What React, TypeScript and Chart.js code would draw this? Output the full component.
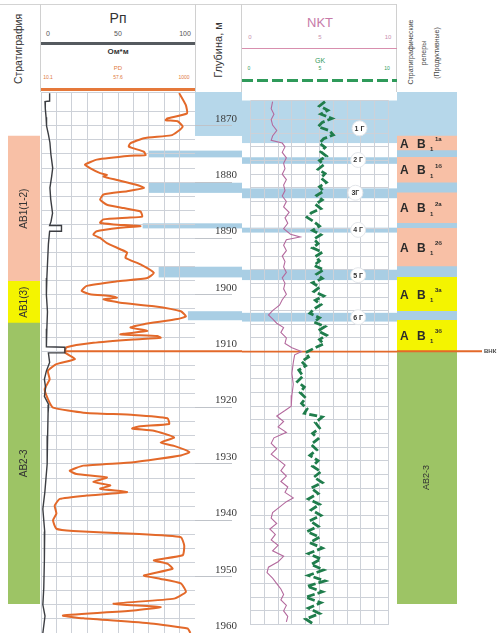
import React, { useEffect, useRef } from "react";
import { Chart, registerables } from "chart.js";

Chart.register(...registerables);

// ---------------- DATA ----------------
const DEPTH_MIN = 1864;
const DEPTH_MAX = 1960;
const OWC_DEPTH = 1910;
const OWC_LABEL = "ВНК";

const rpScaleLabels = ["0", "50", "100"];
const pdScaleLabels = ["10.1", "57.6", "1000"];
const nktScaleLabels = ["0", "5", "10"];
const gkScaleLabels = ["0", "5", "10"];

// Rp resistivity curve: [depth m, Ohm*m]
const rpCurve: [number, number][] = [
  [1864.2, 89.7], [1866.3, 94], [1867.8, 94.8], [1868.7, 82], [1869.0, 81], [1869.2, 88.7],
  [1870.1, 92], [1871.0, 88.7], [1871.7, 84.3], [1872.2, 66.8], [1873.1, 58], [1873.7, 57],
  [1874.6, 66.8], [1875.2, 67.9], [1875.3, 58], [1876.0, 36.2], [1876.9, 28.6], [1877.5, 31.8],
  [1878.4, 38.4], [1878.7, 42.8], [1879.0, 40.6], [1879.6, 49.3], [1880.5, 62.4], [1881.0, 66.8],
  [1881.6, 55.9], [1882.2, 40.6], [1883.1, 38.4], [1884.0, 42.8], [1884.6, 53.7], [1885.2, 64.6],
  [1886.1, 65.7], [1886.3, 55.9], [1886.6, 40.6], [1887.2, 38.4], [1887.5, 47.1], [1887.8, 64.6],
  [1888.1, 51.5], [1888.7, 36.2], [1889.3, 34], [1889.9, 38.4], [1890.8, 42.8], [1891.9, 51.5],
  [1892.5, 55.9], [1893.4, 54.8], [1894.6, 64.6], [1896.1, 73.3], [1897.0, 69], [1897.6, 49.3],
  [1898.4, 29.7], [1899.3, 26.4], [1899.9, 31.8], [1900.2, 45], [1900.5, 49.3], [1900.8, 40.6],
  [1901.4, 51.5], [1902.0, 73.3], [1902.9, 90.8], [1903.8, 94.1], [1904.3, 88.7], [1905.2, 66.8],
  [1905.8, 58.1], [1906.4, 69], [1907.0, 51.5], [1907.3, 75.5], [1907.6, 77.7], [1907.9, 60.2],
  [1908.5, 34], [1909.3, 16.6], [1910.2, 15.5], [1911.4, 22], [1912.3, 10], [1913.5, 4.5],
  [1915.0, 5.6], [1916.7, 2.4], [1918.5, 4.5], [1920.0, 7.8], [1920.9, 27.5], [1921.3, 60.2],
  [1921.9, 82.1], [1922.9, 83.2], [1923.3, 64.6], [1923.7, 59.2], [1924.1, 73.3], [1925.3, 86.4],
  [1926.2, 77.7], [1926.8, 86.4], [1927.9, 96.3], [1928.5, 90.8], [1929.7, 60.2], [1930.3, 27.5],
  [1931.2, 18.7], [1931.8, 23.1], [1932.4, 42.8], [1933.2, 34], [1933.8, 45], [1934.4, 38.4],
  [1935.0, 55.9], [1935.6, 29.7], [1936.2, 12.2], [1937.4, 8.9], [1938.8, 10], [1940.0, 7.8],
  [1941.5, 10], [1941.9, 20.9], [1942.4, 60.2], [1943.0, 90.8], [1944.5, 93], [1946.2, 92],
  [1947.1, 73.3], [1947.7, 82.1], [1948.6, 85.4], [1949.8, 66.8], [1950.4, 77.7], [1951.2, 90.8],
  [1952.7, 94.1], [1953.9, 86.4], [1954.8, 47.1], [1955.4, 77.7], [1956.0, 60.2], [1956.9, 14.3],
  [1957.4, 27.5], [1958.3, 71.2], [1959.2, 95.2], [1960.0, 97],
];

// dark stepped curve near the left edge of the Rp track: [depth, value in Rp units]
const psCurve: [number, number][] = [
  [1864.2, 5.6], [1865.6, 5.6], [1865.7, 2.6], [1867.0, 2.8], [1868.5, 3.3], [1870.0, 3.6],
  [1871.5, 4.8], [1873.0, 5.8], [1875.0, 6.4], [1877.5, 7.6], [1879.0, 6.9], [1881.0, 5.8],
  [1883.0, 6.3], [1885.5, 7.5], [1887.0, 6.5], [1887.7, 5.6], [1887.7, 13.3], [1888.7, 13.3],
  [1888.7, 5.6], [1891.0, 4.8], [1894.0, 4.3], [1897.0, 3.8], [1900.0, 3.5], [1903.0, 4.2],
  [1906.0, 3.8], [1909.2, 3.5], [1909.3, 15.5], [1910.3, 15.5], [1910.3, 4.8], [1912.0, 5.6],
  [1913.5, 3.5], [1915.0, 2.2], [1916.5, 3.0], [1918.0, 2.2], [1919.5, 5.0], [1921.0, 4.6],
  [1925.0, 4.3], [1930.0, 4.0], [1935.0, 2.5], [1938.0, 1.2], [1942.0, 2.4], [1947.0, 2.2],
  [1952.0, 1.8], [1955.0, 1.2], [1957.0, 2.6], [1960.0, 1.2],
];

// NKT curve: [depth, value 0..10]
const nktCurve: [number, number][] = [
  [1864.2, 1.6], [1865.5, 1.5], [1866.5, 1.7], [1867.5, 1.5], [1868.5, 1.6], [1869.5, 1.9],
  [1870.5, 1.6], [1871.3, 1.5], [1871.8, 2.3], [1872.5, 2.5], [1873.5, 2.3], [1874.5, 2.6],
  [1875.5, 2.4], [1876.5, 2.5], [1877.5, 2.3], [1878.5, 2.6], [1879.5, 2.4], [1880.5, 2.5],
  [1881.5, 2.3], [1882.5, 2.6], [1883.5, 2.4], [1884.5, 2.8], [1885.5, 2.5], [1886.5, 2.7],
  [1887.5, 2.4], [1888.5, 2.9], [1889.0, 3.6], [1889.5, 2.6], [1890.5, 2.4], [1891.5, 2.6],
  [1892.5, 2.3], [1893.5, 2.5], [1894.5, 2.4], [1895.5, 2.6], [1896.5, 2.3], [1897.5, 2.5],
  [1898.5, 2.4], [1899.5, 2.6], [1900.5, 2.3], [1901.5, 2.1], [1902.5, 1.6], [1903.3, 1.3],
  [1904.0, 1.6], [1904.8, 1.9], [1905.6, 2.4], [1906.5, 2.2], [1907.5, 2.6], [1908.5, 2.5],
  [1909.3, 3.0], [1910.0, 3.7], [1910.6, 3.2], [1912.0, 3.1], [1914.0, 3.0], [1916.0, 3.1],
  [1918.0, 3.0], [1920.0, 2.95], [1920.8, 2.5], [1921.8, 1.9], [1922.8, 2.4], [1923.8, 2.0],
  [1924.8, 2.6], [1925.8, 1.7], [1926.8, 1.5], [1927.8, 1.9], [1928.8, 1.5], [1929.8, 2.0],
  [1930.8, 2.5], [1931.8, 2.2], [1932.8, 2.6], [1933.8, 2.2], [1934.8, 2.7], [1935.8, 2.5],
  [1936.8, 3.1], [1937.5, 2.6], [1938.5, 2.1], [1939.5, 1.6], [1940.5, 1.5], [1941.5, 1.9],
  [1942.5, 1.4], [1943.5, 1.8], [1944.5, 1.5], [1945.5, 2.0], [1946.5, 1.6], [1947.5, 2.4],
  [1948.5, 2.0], [1949.5, 1.3], [1950.5, 1.2], [1951.5, 1.6], [1952.5, 1.9], [1953.5, 2.2],
  [1954.5, 2.4], [1955.5, 2.2], [1956.5, 2.6], [1957.5, 2.4], [1958.5, 2.7], [1959.5, 2.6],
];

// GK curve: [depth, value 0..10]
const gkCurve: [number, number][] = [
  [1864.2, 5.4], [1865.0, 5.0], [1865.8, 5.6], [1866.5, 5.1], [1867.3, 5.9], [1868.0, 5.2],
  [1868.8, 4.9], [1869.5, 5.7], [1870.3, 6.0], [1871.0, 5.3], [1871.8, 5.0], [1872.6, 5.4],
  [1873.4, 5.1], [1874.2, 5.5], [1875.0, 5.0], [1875.8, 5.3], [1876.6, 4.9], [1877.4, 5.4],
  [1878.2, 5.1], [1879.0, 5.5], [1879.8, 5.0], [1880.6, 5.3], [1881.4, 4.8], [1882.2, 5.2],
  [1883.0, 4.7], [1883.8, 5.1], [1884.6, 4.4], [1885.4, 4.1], [1886.2, 4.6], [1887.0, 5.0],
  [1887.8, 4.5], [1888.6, 5.1], [1889.4, 4.6], [1890.2, 4.9], [1891.0, 4.5], [1891.8, 5.2],
  [1892.6, 4.7], [1893.4, 5.0], [1894.2, 4.6], [1895.0, 5.3], [1895.8, 4.8], [1896.6, 5.2],
  [1897.4, 4.5], [1898.2, 5.0], [1899.0, 4.6], [1899.8, 5.3], [1900.6, 4.7], [1901.4, 5.1],
  [1902.2, 4.6], [1903.0, 4.3], [1903.8, 5.0], [1904.6, 4.6], [1905.4, 5.4], [1906.2, 4.9],
  [1907.0, 5.5], [1907.8, 5.0], [1908.6, 5.3], [1909.4, 4.6], [1910.2, 4.0], [1911.0, 4.2],
  [1911.8, 3.7], [1912.6, 4.0], [1913.4, 3.5], [1914.5, 3.8], [1915.5, 3.4], [1916.5, 3.9],
  [1917.5, 3.6], [1918.5, 4.0], [1919.5, 3.7], [1920.5, 4.1], [1921.3, 3.9], [1922.0, 5.2],
  [1923.0, 4.7], [1924.0, 5.0], [1925.0, 4.5], [1926.0, 4.9], [1927.0, 4.4], [1928.0, 4.8],
  [1929.0, 4.3], [1930.0, 4.9], [1931.0, 4.5], [1932.0, 5.1], [1933.0, 4.6], [1934.0, 5.2],
  [1935.0, 4.4], [1936.0, 4.9], [1937.0, 4.2], [1938.0, 5.0], [1939.0, 4.4], [1940.0, 5.1],
  [1941.0, 4.3], [1942.0, 4.9], [1943.0, 4.1], [1944.0, 5.0], [1945.0, 4.3], [1946.0, 5.2],
  [1947.0, 4.2], [1948.0, 5.1], [1949.0, 4.4], [1950.0, 5.3], [1951.0, 4.2], [1952.0, 5.4],
  [1953.0, 4.1], [1954.0, 5.2], [1955.0, 4.0], [1956.0, 5.1], [1957.0, 4.2], [1958.0, 5.0],
  [1959.0, 4.0], [1960.0, 4.6],
];

// marker interlayers (blue bands)
const bandTop = [1864, 1874.4, 1880.1, 1887.3, 1895.0, 1902.9];
const bandBottom = [1871.8, 1875.6, 1881.9, 1888.2, 1896.9, 1904.5];
const bandRpStart = [100, 69.9, 69.9, 66, 76.4, 95.4];
const bandLabels = ["1 Г", "2 Г", "3Г", "4 Г", "5 Г", "6 Г"];
const bandLabelDepth = [1869.1, 1874.9, 1880.9, 1887.7, 1896.0, 1903.7];
const bandLabelValue = [7.9, 7.8, 7.6, 7.8, 7.8, 7.8];

// stratigraphy (left column)
const stratTop = [1871.8, 1897.6, 1905.0];
const stratBottom = [1897.6, 1905.0, 1954.8];
const stratKind = ["salmon", "yellow", "green"];
const stratNames = ["АВ1(1-2)", "АВ1(3)", "АВ2-3"];

// stratigraphic markers (right column)
const unitTop = [1864, 1871.8, 1874.4, 1875.6, 1880.1, 1881.9, 1887.3, 1888.2, 1895.0, 1896.9, 1902.9, 1904.5, 1910.0];
const unitBottom = [1871.8, 1874.4, 1875.6, 1880.1, 1881.9, 1887.3, 1888.2, 1895.0, 1896.9, 1902.9, 1904.5, 1910.0, 1954.8];
const unitKind = ["blueLight", "salmon", "blue", "salmon", "blue", "salmon", "blue", "salmon", "blue", "yellow", "blue", "yellow", "green"];
const unitIndex = ["", "1а", "", "1б", "", "2а", "", "2б", "", "3а", "", "3б", ""];
const unitName = ["", "", "", "", "", "", "", "", "", "", "", "", "АВ2-3"];

// ---------------- STYLE ----------------
const COLORS: Record<string, string> = {
  salmon: "#f8c0a6",
  yellow: "#f4f400",
  green: "#9dc465",
  blue: "#a9cee4",
  blueLight: "#b6d7ea",
};
const GRID = "#cdd1d8";
const ORANGE = "#e3692a";
const SANS = "'Liberation Sans', Arial, sans-serif";
const SERIF = "'Liberation Serif', 'Times New Roman', serif";

const TOP = 92;
const H = 541;

function depthScale(extra: any = {}) {
  return {
    type: "linear",
    reverse: true,
    min: DEPTH_MIN,
    max: DEPTH_MAX,
    ...extra,
  };
}

const baseOptions = {
  animation: false,
  responsive: false,
  maintainAspectRatio: false,
  layout: { padding: 0 },
  plugins: { legend: { display: false }, tooltip: { enabled: false } },
};

function line(data: [number, number][], color: string, width: number, dash: number[] = [], tension = 0) {
  return {
    data: data.map(([d, v]) => ({ x: v, y: d })),
    showLine: true,
    borderColor: color,
    backgroundColor: color,
    borderWidth: width,
    borderDash: dash,
    pointRadius: 0,
    tension,
  };
}

function drawOwc(chart: any, x0: number, x1: number) {
  const { ctx } = chart;
  const y = chart.scales.y.getPixelForValue(OWC_DEPTH);
  ctx.save();
  ctx.strokeStyle = ORANGE;
  ctx.lineWidth = 1.8;
  ctx.beginPath();
  ctx.moveTo(x0, y);
  ctx.lineTo(x1, y);
  ctx.stroke();
  ctx.restore();
}

function fillBands(chart: any, xFrom: (i: number) => number | null, x1: number) {
  const { ctx } = chart;
  const ys = chart.scales.y;
  ctx.save();
  bandTop.forEach((t, i) => {
    const x0 = xFrom(i);
    if (x0 === null) return;
    const y0 = ys.getPixelForValue(t);
    const y1 = ys.getPixelForValue(bandBottom[i]);
    ctx.fillStyle = i === 0 ? COLORS.blueLight : COLORS.blue;
    ctx.fillRect(x0, y0, x1 - x0, y1 - y0);
  });
  ctx.restore();
}

function drawRotated(ctx: any, text: string, x: number, y: number, font: string, color: string) {
  ctx.save();
  ctx.translate(x, y);
  ctx.rotate(-Math.PI / 2);
  ctx.font = font;
  ctx.fillStyle = color;
  ctx.textAlign = "center";
  ctx.textBaseline = "middle";
  ctx.fillText(text, 0, 0);
  ctx.restore();
}

// ---------------- COMPONENT ----------------
function Txt({ x, y, children, size = 8, color = "#333", weight = 400, rot = false, family = SANS }: any) {
  return (
    <div
      style={{
        position: "absolute",
        left: x,
        top: y,
        transform: `translate(-50%, -50%)${rot ? " rotate(-90deg)" : ""}`,
        fontFamily: family,
        fontSize: size,
        fontWeight: weight,
        color,
        whiteSpace: "nowrap",
        lineHeight: 1,
      }}
    >
      {children}
    </div>
  );
}

function HLine({ x, y, w, h = 1, color = "#ccc", bg }: any) {
  return <div style={{ position: "absolute", left: x, top: y, width: w, height: h, background: bg || color }} />;
}

export default function App() {
  const stratRef = useRef<HTMLCanvasElement>(null);
  const rpRef = useRef<HTMLCanvasElement>(null);
  const depthRef = useRef<HTMLCanvasElement>(null);
  const nktRef = useRef<HTMLCanvasElement>(null);
  const unitRef = useRef<HTMLCanvasElement>(null);

  useEffect(() => {
    const charts: Chart[] = [];

    // Stratigraphy column
    charts.push(
      new Chart(stratRef.current as any, {
        type: "bar",
        data: {
          labels: ["s"],
          datasets: [
            {
              data: stratTop.map((t, i) => ({ x: "s", y: [t, stratBottom[i]] })) as any,
              backgroundColor: stratKind.map((k) => COLORS[k]),
              borderWidth: 0,
              barPercentage: 1,
              categoryPercentage: 1,
            },
          ],
        },
        options: {
          ...(baseOptions as any),
          scales: {
            x: { display: false },
            y: { ...(depthScale() as any), display: false },
          },
        },
        plugins: [
          {
            id: "stratLabels",
            afterDatasetsDraw(chart: any) {
              const ys = chart.scales.y;
              const cx = (chart.chartArea.left + chart.chartArea.right) / 2;
              stratNames.forEach((n, i) => {
                const cy = (ys.getPixelForValue(stratTop[i]) + ys.getPixelForValue(stratBottom[i])) / 2;
                drawRotated(chart.ctx, n, cx, cy, `10px ${SANS}`, "#333");
              });
            },
          },
        ],
      } as any)
    );

    // Rp track
    charts.push(
      new Chart(rpRef.current as any, {
        type: "scatter",
        data: {
          datasets: [line(psCurve, "#3b3d42", 1.4), line(rpCurve, ORANGE, 2, [], 0.15)] as any,
        },
        options: {
          ...(baseOptions as any),
          scales: {
            x: {
              type: "linear",
              min: 0,
              max: 100,
              ticks: { display: false, stepSize: 10 },
              grid: { color: GRID, drawTicks: false },
              border: { display: false },
            },
            y: {
              ...(depthScale() as any),
              ticks: { display: false, stepSize: 2.5 },
              grid: { color: GRID, drawTicks: false },
              border: { display: false },
            },
          },
        },
        plugins: [
          {
            id: "rpBands",
            beforeDraw(chart: any) {
              const xs = chart.scales.x;
              fillBands(chart, (i) => (bandRpStart[i] >= 100 ? null : xs.getPixelForValue(bandRpStart[i])), chart.width);
            },
            beforeDatasetsDraw(chart: any) {
              drawOwc(chart, chart.scales.x.getPixelForValue(15), chart.width);
            },
          },
        ],
      } as any)
    );

    // Depth column
    charts.push(
      new Chart(depthRef.current as any, {
        type: "scatter",
        data: { datasets: [] },
        options: {
          ...(baseOptions as any),
          scales: {
            x: { type: "linear", min: 0, max: 1, display: false },
            y: {
              ...(depthScale() as any),
              position: "right",
              afterBuildTicks(scale: any) {
                scale.ticks = scale.ticks.filter((t: any) => t.value % 10 === 0);
              },
              afterFit(scale: any) {
                scale.paddingTop = 0;
                scale.paddingBottom = 0;
              },
              ticks: {
                stepSize: 10,
                mirror: true,
                padding: 5,
                labelOffset: -7,
                color: "#3a3a3a",
                font: { family: SERIF, size: 11 },
                callback: (v: any) => String(v),
              },
              grid: { color: "#bfc3c9", drawTicks: false },
              border: { display: false },
            },
          },
        },
        plugins: [
          {
            id: "depthBands",
            beforeDraw(chart: any) {
              fillBands(chart, () => 0, chart.width);
            },
            afterDraw(chart: any) {
              drawOwc(chart, 0, chart.width);
            },
          },
        ],
      } as any)
    );

    // NKT / GK track
    charts.push(
      new Chart(nktRef.current as any, {
        type: "scatter",
        data: {
          datasets: [
            line(nktCurve, "#b46a9e", 1.1),
            line(gkCurve, "#1f7d4c", 2.8, [8, 3]),
            {
              data: bandLabelDepth.map((d, i) => ({ x: bandLabelValue[i], y: d })),
              showLine: false,
              pointRadius: 7.5,
              pointBackgroundColor: "#ffffff",
              pointBorderColor: "#e3e6ea",
              pointBorderWidth: 1,
            },
          ] as any,
        },
        options: {
          ...(baseOptions as any),
          scales: {
            x: {
              type: "linear",
              min: 0,
              max: 10,
              ticks: { display: false, stepSize: 1 },
              grid: { color: GRID, drawTicks: false },
              border: { display: false },
            },
            y: {
              ...(depthScale() as any),
              ticks: { display: false, stepSize: 2.5 },
              grid: { color: GRID, drawTicks: false },
              border: { display: false },
            },
          },
        },
        plugins: [
          {
            id: "nktBands",
            beforeDraw(chart: any) {
              fillBands(chart, () => 0, chart.width);
            },
            beforeDatasetsDraw(chart: any) {
              drawOwc(chart, 0, chart.width);
            },
            afterDatasetsDraw(chart: any) {
              const { ctx } = chart;
              ctx.save();
              ctx.font = `bold 7px ${SANS}`;
              ctx.fillStyle = "#333";
              ctx.textAlign = "center";
              ctx.textBaseline = "middle";
              bandLabels.forEach((l, i) => {
                ctx.fillText(
                  l,
                  chart.scales.x.getPixelForValue(bandLabelValue[i]),
                  chart.scales.y.getPixelForValue(bandLabelDepth[i]) + 0.5
                );
              });
              ctx.restore();
            },
          },
        ],
      } as any)
    );

    // Stratigraphic markers column
    charts.push(
      new Chart(unitRef.current as any, {
        type: "bar",
        data: {
          labels: ["u"],
          datasets: [
            {
              data: unitTop.map((t, i) => ({ x: "u", y: [t, unitBottom[i]] })) as any,
              backgroundColor: unitKind.map((k) => COLORS[k]),
              borderWidth: 0,
              barPercentage: 1,
              categoryPercentage: 1,
            },
          ],
        },
        options: {
          ...(baseOptions as any),
          layout: { padding: { right: 43 } },
          scales: {
            x: { display: false },
            y: { ...(depthScale() as any), display: false },
          },
        },
        plugins: [
          {
            id: "unitLabels",
            afterDatasetsDraw(chart: any) {
              const { ctx, chartArea } = chart;
              const ys = chart.scales.y;
              const x0 = chartArea.left + 3;
              unitTop.forEach((t, i) => {
                const cy = (ys.getPixelForValue(t) + ys.getPixelForValue(unitBottom[i])) / 2;
                if (unitIndex[i]) {
                  ctx.save();
                  ctx.fillStyle = "#2a2a2a";
                  ctx.textBaseline = "middle";
                  ctx.textAlign = "left";
                  ctx.font = `bold 12px ${SANS}`;
                  ctx.fillText("А", x0, cy + 1);
                  ctx.fillText("В", x0 + 17, cy + 1);
                  ctx.font = `bold 6px ${SANS}`;
                  ctx.fillText("1", x0 + 30, cy + 6);
                  ctx.fillText(unitIndex[i], x0 + 35, cy - 4);
                  ctx.restore();
                }
                if (unitName[i]) {
                  drawRotated(ctx, unitName[i], (chartArea.left + chartArea.right) / 2, cy, `9px ${SANS}`, "#333");
                }
              });
              drawOwc(chart, 0, chart.width - 18);
              ctx.save();
              ctx.font = `bold 6px ${SANS}`;
              ctx.fillStyle = "#444";
              ctx.textBaseline = "middle";
              ctx.textAlign = "left";
              ctx.fillText(OWC_LABEL, chart.width - 16, ys.getPixelForValue(OWC_DEPTH));
              ctx.restore();
            },
          },
        ],
      } as any)
    );

    return () => charts.forEach((c) => c.destroy());
  }, []);

  const cv = (left: number, width: number) => ({
    position: "absolute" as const,
    left,
    top: TOP,
    width,
    height: H,
  });

  return (
    <div style={{ position: "absolute", left: 0, top: 0, width: 500, height: 633, overflow: "hidden", background: "#fff" }}>
      {/* header frame */}
      <HLine x={0} y={4} w={397} color="#d3d3d3" />
      <HLine x={40} y={4} w={1} h={88} color="#d0d0d0" />
      <HLine x={195} y={4} w={1} h={88} color="#d0d0d0" />
      <HLine x={241} y={4} w={1} h={88} color="#d0d0d0" />
      <HLine x={396} y={4} w={1} h={88} color="#d0d0d0" />

      {/* Stratigraphy header */}
      <Txt x={18} y={49} size={10.5} rot>Стратиграфия</Txt>

      {/* Rp header */}
      <Txt x={118} y={18} size={14}>Рп</Txt>
      <Txt x={48} y={33} size={7} color="#555">{rpScaleLabels[0]}</Txt>
      <Txt x={118} y={33} size={7} color="#555">{rpScaleLabels[1]}</Txt>
      <Txt x={185} y={33} size={7} color="#555">{rpScaleLabels[2]}</Txt>
      <HLine x={41} y={42} w={154} h={2.5} color="#555a5f" />
      <Txt x={118} y={52} size={8} weight={700} color="#333">Ом*м</Txt>
      <Txt x={118} y={68} size={6} color="#e07a40">PD</Txt>
      <Txt x={48} y={77} size={5} color="#e07a40">{pdScaleLabels[0]}</Txt>
      <Txt x={118} y={77} size={5} color="#e07a40">{pdScaleLabels[1]}</Txt>
      <Txt x={184} y={77} size={5} color="#e07a40">{pdScaleLabels[2]}</Txt>
      <HLine x={41} y={88} w={154} h={2.5} color="#e5783a" />

      {/* Depth header */}
      <Txt x={218} y={50} size={11} rot>Глубина, м</Txt>

      {/* NKT / GK header */}
      <Txt x={320} y={22} size={13} color="#c77aa8">NKT</Txt>
      <Txt x={250} y={37} size={6} color="#c890ae">{nktScaleLabels[0]}</Txt>
      <Txt x={320} y={37} size={6} color="#c890ae">{nktScaleLabels[1]}</Txt>
      <Txt x={388} y={37} size={6} color="#c890ae">{nktScaleLabels[2]}</Txt>
      <HLine x={242} y={48} w={155} h={1.2} color="#d88fae" />
      <Txt x={320} y={60} size={7} color="#2f9a5a">GK</Txt>
      <Txt x={249} y={68} size={5} color="#2f9a5a">{gkScaleLabels[0]}</Txt>
      <Txt x={320} y={68} size={5} color="#2f9a5a">{gkScaleLabels[1]}</Txt>
      <Txt x={387} y={68} size={5} color="#2f9a5a">{gkScaleLabels[2]}</Txt>
      <HLine
        x={242}
        y={79}
        w={155}
        h={3}
        bg="repeating-linear-gradient(to right, #2f9a5a 0px, #2f9a5a 11px, transparent 11px, transparent 15px)"
      />

      {/* right column header */}
      <Txt x={410} y={52} size={7} color="#444" rot>Стратиграфические</Txt>
      <Txt x={423} y={53} size={7} color="#444" rot>реперы</Txt>
      <Txt x={436} y={53} size={7} color="#444" rot>(Продуктивные)</Txt>

      {/* tracks */}
      <canvas ref={stratRef} width={32} height={H} style={cv(8, 32)} />
      <canvas ref={rpRef} width={154} height={H} style={cv(41, 154)} />
      <canvas ref={depthRef} width={47} height={H} style={cv(195, 47)} />
      <canvas ref={nktRef} width={155} height={H} style={cv(242, 155)} />
      <canvas ref={unitRef} width={103} height={H} style={cv(397, 103)} />
    </div>
  );
}
